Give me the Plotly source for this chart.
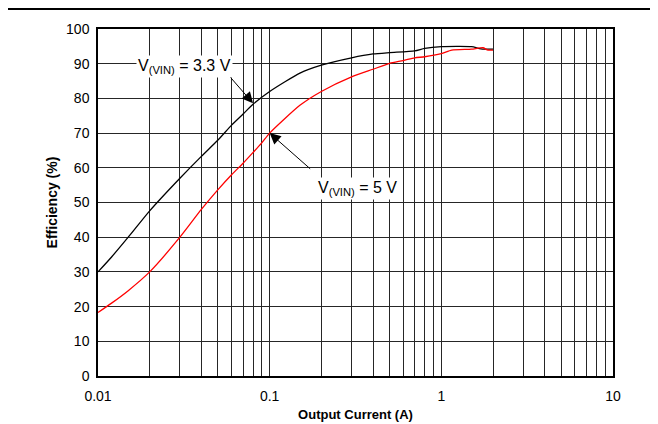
import math
import plotly.graph_objects as go

# Data
current_33 = [0.01, 0.012, 0.015, 0.02, 0.03, 0.04, 0.05, 0.06, 0.07, 0.08, 0.1,
              0.15, 0.2, 0.3, 0.4, 0.5, 0.7, 0.8, 1.0, 1.5, 1.7, 2.0]
eff_33 = [30, 34.3, 40, 47.6, 57, 63.3, 68, 72.3, 75.5, 78.3, 82,
          87.3, 89.6, 91.7, 92.8, 93.2, 93.7, 94.4, 94.9, 94.9, 94.3, 94.2]

current_5 = [0.01, 0.012, 0.015, 0.02, 0.03, 0.04, 0.05, 0.06, 0.07, 0.08, 0.09, 0.1,
             0.15, 0.2, 0.3, 0.4, 0.5, 0.6, 0.7, 0.8, 1.0, 1.15, 1.5, 1.75, 1.85, 2.0]
eff_5 = [18.3, 21, 24.6, 30, 40, 48, 53.7, 58, 61.3, 64.4, 67.2, 70,
         78, 82, 86.2, 88.4, 90.1, 90.9, 91.7, 92, 92.9, 93.9, 94.2, 94.6, 94, 93.9]

y_ticks = list(range(0, 101, 10))

# all log grid positions
x_grid = []
x_text = []
for d in [0.01, 0.1, 1]:
    for k in range(1, 10):
        v = round(d * k, 6)
        x_grid.append(v)
        x_text.append(str(d if d < 1 else int(d)) if k == 1 else "")
x_grid.append(10)
x_text.append("10")

font_family = "Liberation Sans, Arial, sans-serif"

fig = go.Figure()
fig.add_trace(go.Scatter(x=current_33, y=eff_33, mode="lines",
                         line=dict(color="black", width=1.3, shape="spline", smoothing=0.6),
                         showlegend=False))
fig.add_trace(go.Scatter(x=current_5, y=eff_5, mode="lines",
                         line=dict(color="#ff0000", width=1.3, shape="spline", smoothing=0.6),
                         showlegend=False))

fig.update_layout(
    width=658, height=424,
    margin=dict(l=90, r=53, t=21, b=56),
    paper_bgcolor="white", plot_bgcolor="white",
    font=dict(family=font_family, size=14, color="black"),
    showlegend=False,
)
fig.update_xaxes(
    type="log", range=[-2, 1], automargin=False,
    tickmode="array", tickvals=x_grid, ticktext=x_text,
    showgrid=True, gridcolor="#262626", gridwidth=1,
    showline=True, linecolor="black", linewidth=1.5, mirror=True,
    ticks="", zeroline=False, ticklabelstandoff=6,
    tickfont=dict(size=14),
    title=dict(text="<b>Output Current (A)</b>", font=dict(size=13), standoff=7),
)
fig.update_yaxes(
    range=[0, 100], tickmode="array", tickvals=y_ticks, automargin=False,
    showgrid=True, gridcolor="#262626", gridwidth=1,
    showline=True, linecolor="black", linewidth=1.5, mirror=True,
    ticks="", zeroline=False, ticklabelstandoff=4,
    tickfont=dict(size=14),
    title=dict(text="<b>Efficiency (%)</b>", font=dict(size=14), standoff=5),
)

# Top rule
fig.add_shape(type="line", xref="paper", yref="paper", x0=-0.2, x1=1.2,
              y0=1.0 + 20 / 347, y1=1.0 + 20 / 347,
              line=dict(color="black", width=2))

# Arrows
fig.add_annotation(x=math.log10(0.08), y=78.6, xref="x", yref="y", text="",
                   showarrow=True, arrowhead=2, arrowsize=2.2, arrowwidth=1,
                   arrowcolor="black", ax=-27, ay=-31)
fig.add_annotation(x=math.log10(0.1), y=70, xref="x", yref="y", text="",
                   showarrow=True, arrowhead=2, arrowsize=2.2, arrowwidth=1,
                   arrowcolor="black", ax=42, ay=37)

# Labels
fig.add_annotation(x=-1.495, y=89.3, xref="x", yref="y",
                   text="V<sub>(VIN)</sub> = 3.3 V", showarrow=False,
                   bgcolor="white", font=dict(size=16), borderpad=1)
fig.add_annotation(x=-0.487, y=54, xref="x", yref="y",
                   text="V<sub>(VIN)</sub> = 5 V", showarrow=False,
                   bgcolor="white", font=dict(size=16), borderpad=1)

fig.write_html("out.html")
